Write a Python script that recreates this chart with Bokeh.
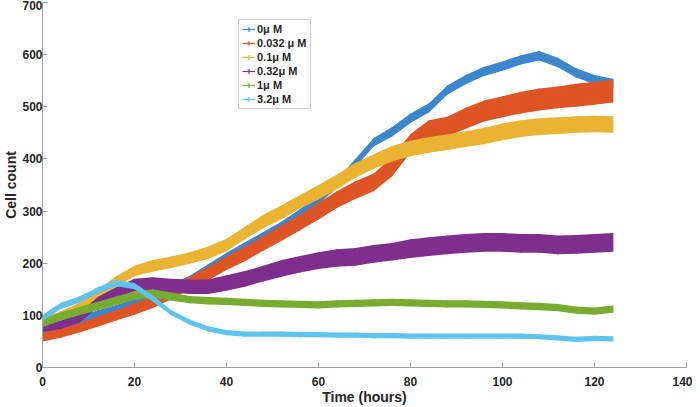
from bokeh.plotting import figure
from bokeh.models import Range1d, Legend, LegendItem, FixedTicker
from bokeh.embed import file_html
from bokeh.resources import INLINE

# ---- data ----
hours = [0, 4, 8, 12, 16, 20, 24, 28, 32, 36, 40, 44, 48, 52, 56, 60,
         64, 68, 72, 76, 80, 84, 88, 92, 96, 100, 104, 108, 112, 116, 120, 124]

labels = ["0\u03bc M", "0.032 \u03bc M", "0.1\u03bc M", "0.32\u03bc M", "1\u03bc M", "3.2\u03bc M"]
colors = ["#3b86cc", "#dd5524", "#eab432", "#7e2f8e", "#77ac30", "#5ec4ee"]

c_0 = [72, 80, 90, 102, 112, 124, 138, 152, 168, 190, 212, 232, 252, 272, 296, 322,
       352, 392, 432, 452, 478, 498, 532, 552, 568, 578, 590, 598, 585, 565, 552, 545]
c_0032 = [58, 66, 76, 88, 100, 112, 125, 143, 162, 180, 200, 218, 238, 258, 278, 300,
          322, 340, 355, 385, 430, 455, 462, 478, 492, 500, 508, 514, 518, 522, 526, 530]
c_01 = [88, 100, 115, 140, 165, 185, 195, 202, 210, 220, 235, 258, 280, 298, 318, 336,
        356, 378, 395, 410, 420, 427, 432, 438, 444, 452, 458, 462, 464, 466, 467, 466]
c_032 = [76, 82, 95, 125, 143, 158, 160, 157, 155, 155, 162, 170, 180, 190, 198, 205,
         210, 212, 218, 222, 228, 232, 235, 238, 240, 240, 238, 238, 235, 236, 238, 240]
c_1 = [85, 98, 108, 118, 128, 138, 142, 136, 130, 128, 127, 125, 123, 122, 121, 120,
       122, 123, 124, 125, 124, 123, 122, 122, 121, 120, 118, 117, 115, 110, 108, 112]
c_32 = [95, 118, 130, 148, 162, 156, 132, 105, 87, 74, 67, 64, 64, 64, 63, 63,
        62, 62, 61, 61, 60, 60, 60, 60, 60, 60, 60, 59, 57, 54, 56, 55]

e_0 = [8, 8, 8, 8, 8, 8, 8, 8, 8, 8, 8, 8, 8, 8, 8, 8,
       8, 8, 8, 9, 9, 9, 9, 9, 9, 9, 9, 9, 9, 9, 9, 9]
e_0032 = [8, 9, 9, 10, 10, 11, 11, 12, 12, 13, 13, 14, 14, 15, 15, 16,
          16, 17, 17, 18, 18, 19, 19, 20, 20, 20, 21, 21, 21, 22, 22, 22]
e_01 = [8, 8, 9, 9, 10, 10, 11, 11, 11, 12, 12, 12, 13, 13, 13, 14,
        14, 14, 14, 15, 15, 15, 15, 15, 16, 16, 16, 16, 16, 16, 16, 16]
e_032 = [8, 8, 9, 10, 11, 12, 13, 13, 14, 14, 15, 15, 15, 16, 16, 16,
         17, 17, 17, 17, 18, 18, 18, 18, 18, 18, 18, 18, 18, 18, 18, 18]
e_1 = [8, 8, 8, 8, 8, 8, 8, 8, 7, 7, 7, 7, 7, 7, 7, 7,
       7, 7, 7, 7, 7, 7, 7, 7, 7, 7, 7, 7, 7, 7, 7, 7]
e_32 = [6, 6, 6, 6, 6, 6, 6, 5, 5, 5, 5, 5, 5, 5, 5, 5,
        5, 5, 5, 5, 5, 5, 5, 5, 5, 5, 5, 5, 5, 5, 5, 5]

series = [c_0, c_0032, c_01, c_032, c_1, c_32]
errors = [e_0, e_0032, e_01, e_032, e_1, e_32]

FONT = "Liberation Sans"
TXT = "#262626"
AX = "#a0a0a0"

p = figure(width=692, height=407, output_backend="svg", toolbar_location=None,
           x_range=Range1d(0, 140), y_range=Range1d(0, 700),
           min_border_left=0, min_border_right=6, min_border_top=2, min_border_bottom=0)
p.outline_line_color = None
p.xgrid.visible = False
p.ygrid.visible = False

items = []
for lab, col, vals, err in zip(labels, colors, series, errors):
    lo = [v - e for v, e in zip(vals, err)]
    hi = [v + e for v, e in zip(vals, err)]
    p.varea(x=hours, y1=lo, y2=hi, fill_color=col, fill_alpha=1.0)
    p.line(x=hours, y=vals, line_color=col, line_width=1.5)
    p.segment(x0=hours, y0=lo, x1=hours, y1=hi, line_color=col, line_width=1)
    lg_line = p.line(x=[-50, -40], y=[-50, -50], line_color=col, line_width=1.2)
    lg_mark = p.scatter(x=[-50], y=[-50], marker="cross", size=9, line_color=col, line_width=1.2)
    items.append(LegendItem(label=lab, renderers=[lg_line, lg_mark]))

for ax in (p.xaxis[0], p.yaxis[0]):
    ax.axis_line_color = AX
    ax.major_tick_line_color = AX
    ax.major_tick_in = 5
    ax.major_tick_out = 0
    ax.minor_tick_line_color = None
    ax.major_label_text_font = FONT
    ax.major_label_text_font_style = "bold"
    ax.major_label_text_font_size = "12px"
    ax.major_label_text_color = TXT
    ax.axis_label_text_font = FONT
    ax.axis_label_text_font_style = "bold"
    ax.axis_label_text_font_size = "14px"
    ax.axis_label_text_color = TXT

p.xaxis.ticker = FixedTicker(ticks=[0, 20, 40, 60, 80, 100, 120, 140])
p.yaxis.ticker = FixedTicker(ticks=[0, 100, 200, 300, 400, 500, 600, 700])
p.xaxis.axis_label = "Time (hours)"
p.yaxis.axis_label = "Cell count"
p.xaxis.major_label_standoff = 9
p.xaxis.axis_label_standoff = 0
p.yaxis.major_label_standoff = 0
p.yaxis.axis_label_standoff = 0

legend = Legend(items=items, location=(196, 258))
legend.label_text_font = FONT
legend.label_text_font_style = "bold"
legend.label_text_font_size = "11px"
legend.label_text_color = TXT
legend.label_height = 12
legend.glyph_height = 12
legend.glyph_width = 13
legend.label_standoff = 2
legend.spacing = 2
legend.padding = 3
legend.margin = 0
legend.border_line_color = "#a0a0a0"
legend.background_fill_alpha = 1.0
p.add_layout(legend, "center")

open("out.html", "w").write(file_html(p, INLINE))
